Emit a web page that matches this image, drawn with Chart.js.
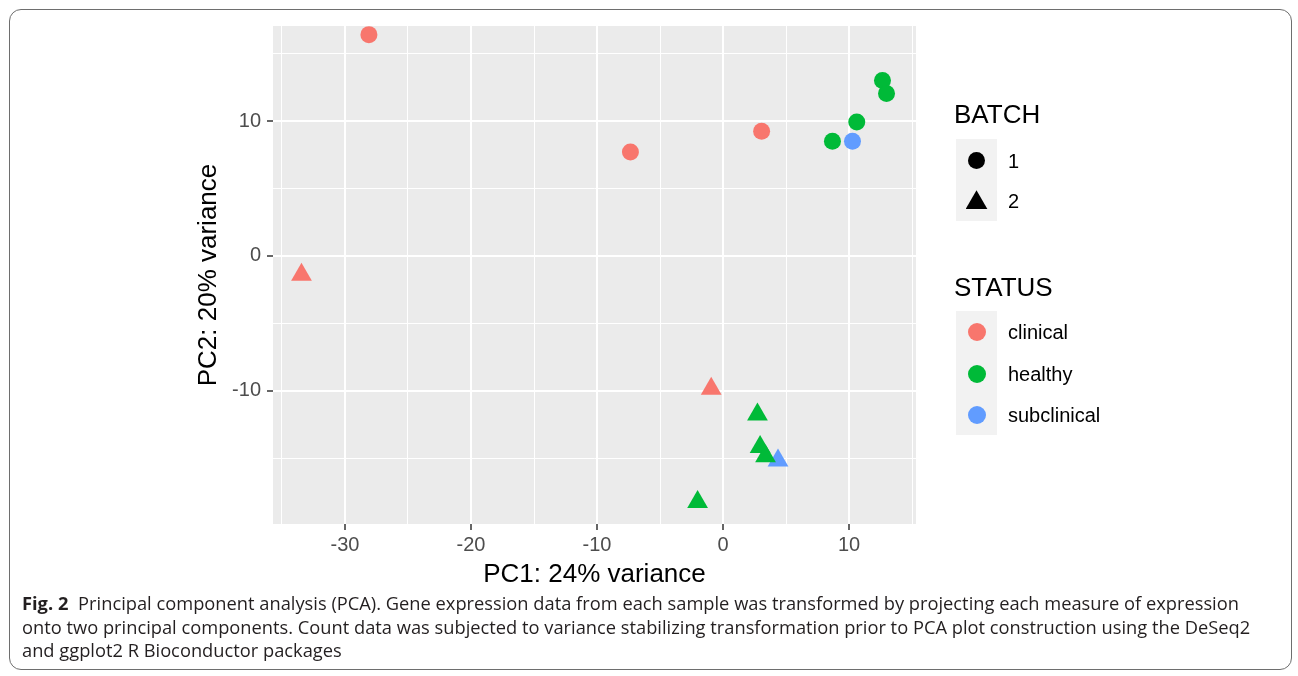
<!DOCTYPE html>
<html>
<head>
<meta charset="utf-8">
<title>PCA</title>
<script src="https://cdn.jsdelivr.net/npm/chart.js@4.4.1/dist/chart.umd.min.js"></script>
<style>
  body { margin: 0; background: #fff; width: 1298px; height: 676px; position: relative; overflow: hidden; font-family: 'Liberation Sans', Arial, sans-serif; }
  #frame { position: absolute; left: 9px; top: 9px; width: 1281px; height: 659px; border: 1.5px solid #6e6e6e; border-radius: 12px; }
  #chart { position: absolute; left: 0; top: 0; }
  .lg { position: absolute; line-height: 1; white-space: nowrap; color: #000; }
  .lg-title { font-size: 26px; }
  .lg-text { font-size: 20px; }
  .keybox { position: absolute; left: 956px; width: 41px; background: #f2f2f2; }
  .dot { position: absolute; border-radius: 50%; }
  .tri { position: absolute; clip-path: polygon(50% 0, 100% 100%, 0 100%); }
  #caption { position: absolute; left: 22px; top: 591px; font-family: 'Open Sans', sans-serif; font-size: 18.3px; line-height: 23.7px; color: #231f20; white-space: nowrap; }
  #caption b { font-weight: 700; margin-right: 5px; }
</style>
</head>
<body>
<div id="frame"></div>
<canvas id="chart" width="1298" height="595"></canvas>
<div id="legend"></div>
<div id="caption">
  <div><b>Fig. 2</b> Principal component analysis (PCA). Gene expression data from each sample was transformed by projecting each measure of expression</div>
  <div>onto two principal components. Count data was subjected to variance stabilizing transformation prior to PCA plot construction using the DeSeq2</div>
  <div>and ggplot2 R Bioconductor packages</div>
</div>
<script>
const statusNames = ['clinical', 'healthy', 'subclinical'];
const statusColors = ['#F8766D', '#00BA38', '#619CFF'];
const batchNames = ['1', '2'];

// one entry per sample
const sampleStatus = ['clinical', 'clinical', 'clinical', 'healthy', 'healthy', 'healthy', 'healthy', 'subclinical',
                      'clinical', 'clinical', 'healthy', 'healthy', 'healthy', 'subclinical', 'healthy'];
const sampleBatch = [1, 1, 1, 1, 1, 1, 1, 1, 2, 2, 2, 2, 2, 2, 2];
const pc1 = [-28.1, -7.35, 3.06, 12.65, 12.97, 10.61, 8.68, 10.27, -33.45, -0.94, 2.73, 2.94, 3.37, 4.36, -2.02];
const pc2 = [16.4, 7.7, 9.24, 13.0, 12.03, 9.93, 8.5, 8.5, -1.4, -9.85, -11.75, -14.17, -14.84, -15.17, -18.24];

const xTicks = [-30, -20, -10, 0, 10];
const yTicks = [-10, 0, 10];
const xRange = [-35.71, 15.31];
const yRange = [-19.87, 17.04];

Chart.defaults.font.family = "'Liberation Sans', Arial, sans-serif";

const datasets = statusNames.map((name, i) => ({
    label: name,
    data: pc1.map((x, k) => ({ x: x, y: pc2[k], batch: sampleBatch[k], status: sampleStatus[k] }))
             .filter(p => p.status === name),
    backgroundColor: statusColors[i],
    borderWidth: 0,
    pointStyle: c => (c.raw && c.raw.batch === 2) ? 'triangle' : 'circle',
    pointRadius: c => (c.raw && c.raw.batch === 2) ? 12 : 8.5
}));

// grey ggplot panel behind the grid
const panelBackground = {
    id: 'panelBackground',
    beforeDraw(chart) {
        const { ctx, chartArea: a } = chart;
        ctx.save();
        ctx.fillStyle = '#ebebeb';
        ctx.fillRect(a.left, a.top, a.right - a.left, a.bottom - a.top);
        ctx.restore();
    }
};

function axisGrid(major) {
    return {
        color: '#ffffff',
        lineWidth: c => major.includes(c.tick.value) ? 2 : 1,
        tickLength: 6,
        tickWidth: 1.5,
        tickColor: c => major.includes(c.tick.value) ? '#333333' : 'rgba(0,0,0,0)'
    };
}

new Chart(document.getElementById('chart').getContext('2d'), {
    type: 'scatter',
    data: { datasets: datasets },
    plugins: [panelBackground],
    options: {
        responsive: false,
        animation: false,
        events: [],
        layout: { padding: { top: 26, right: 382, bottom: 0, left: 0 } },
        plugins: { legend: { display: false }, tooltip: { enabled: false } },
        scales: {
            x: {
                min: xRange[0],
                max: xRange[1],
                border: { display: false },
                grid: axisGrid(xTicks),
                ticks: {
                    stepSize: 5,
                    includeBounds: false,
                    autoSkip: false,
                    maxRotation: 0,
                    padding: 3,
                    color: '#4d4d4d',
                    font: { size: 20 },
                    callback: v => xTicks.includes(v) ? String(v) : ''
                },
                title: {
                    display: true,
                    text: 'PC1: 24% variance',
                    color: '#000',
                    font: { size: 26 },
                    padding: { top: 0, bottom: 5 }
                },
                afterFit: scale => { scale.height = 71; }
            },
            y: {
                min: yRange[0],
                max: yRange[1],
                border: { display: false },
                grid: axisGrid(yTicks),
                ticks: {
                    stepSize: 5,
                    includeBounds: false,
                    autoSkip: false,
                    padding: 6,
                    color: '#4d4d4d',
                    font: { size: 20 },
                    callback: v => yTicks.includes(v) ? String(v) : ''
                },
                title: {
                    display: true,
                    text: 'PC2: 20% variance',
                    color: '#000',
                    font: { size: 26 },
                    padding: { top: 193, bottom: 0 }
                },
                afterFit: scale => { scale.width = 273; }
            }
        }
    }
});

// legend, laid out like ggplot's guide boxes
const legend = document.getElementById('legend');
function addText(text, cls, left, capCenter, size) {
    const d = document.createElement('div');
    d.className = 'lg ' + cls;
    d.textContent = text;
    d.style.left = left + 'px';
    d.style.top = (capCenter - 0.4885 * size) + 'px';
    legend.appendChild(d);
}
function addBox(top, height) {
    const b = document.createElement('div');
    b.className = 'keybox';
    b.style.top = top + 'px';
    b.style.height = height + 'px';
    legend.appendChild(b);
}
function addDot(cx, cy, d, color) {
    const e = document.createElement('div');
    e.className = 'dot';
    e.style.left = (cx - d / 2) + 'px';
    e.style.top = (cy - d / 2) + 'px';
    e.style.width = d + 'px';
    e.style.height = d + 'px';
    e.style.background = color;
    legend.appendChild(e);
}
function addTriangle(cx, cy, w, h, color) {
    const e = document.createElement('div');
    e.className = 'tri';
    e.style.left = (cx - w / 2) + 'px';
    e.style.top = (cy - h * 2 / 3) + 'px';
    e.style.width = w + 'px';
    e.style.height = h + 'px';
    e.style.background = color;
    legend.appendChild(e);
}

addText('BATCH', 'lg-title', 954, 114, 26);
addBox(139, 82);
const batchRows = [160.5, 201];
batchNames.forEach((name, i) => {
    if (i === 0) addDot(976.5, batchRows[i], 17, '#000');
    else addTriangle(976.5, batchRows[i] + 2, 22, 19, '#000');
    addText(name, 'lg-text', 1008, batchRows[i], 20);
});

addText('STATUS', 'lg-title', 954, 286.7, 26);
addBox(311, 124);
const statusRows = [331.5, 374, 415];
statusNames.forEach((name, i) => {
    addDot(976.5, statusRows[i], 18, statusColors[i]);
    addText(name, 'lg-text', 1008, statusRows[i], 20);
});
</script>
</body>
</html>
